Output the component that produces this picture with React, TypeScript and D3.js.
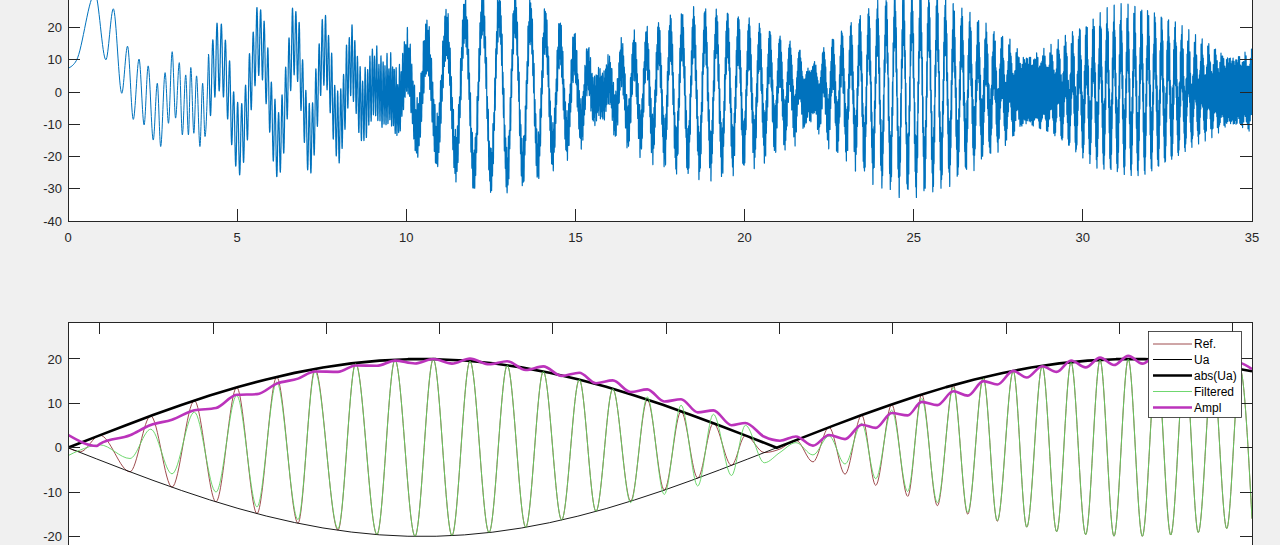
import React, { useMemo } from "react";
import * as d3 from "d3";

// ================= TOP SUBPLOT DATA =================
const TOP_X_TICKS = [0, 5, 10, 15, 20, 25, 30, 35];
const TOP_Y_TICKS = [-40, -30, -20, -10, 0, 10, 20, 30, 40];

// explicit extrema of the first, slow part of the signal (t, value)
const EARLY_T = [0, 0.25, 0.8, 1.12, 1.34, 1.59, 1.76, 1.93, 2.1, 2.25, 2.37, 2.52, 2.64, 2.74, 2.87, 2.97, 3.08, 3.18, 3.29, 3.38, 3.48, 3.56, 3.63, 3.72, 3.8, 3.9, 3.98, 4.05, 4.15];
const EARLY_V = [7.3, 9.8, 30.5, 10, 25.8, -0.4, 14.2, -8.5, 10.2, -10.2, 8.1, -14.9, 2.7, -16.9, 6, -9.7, 12.5, -8.1, 9.1, -13.3, 5.3, -13.3, 7.6, -12.8, 5, -16.9, 2.7, -13.8, 10.9];

// slow (visible strokes) component: signed envelope
const SLOW_T = [4.15, 5.05, 5.7, 6.25, 6.75, 7.18, 7.6, 8.03, 8.43, 8.75, 9.45, 10.1, 10.4, 10.7, 11.0, 11.5, 12.0, 12.6, 13.0, 13.5, 14.0, 14.45, 14.9, 15.3, 15.7, 16.3, 16.7, 17.1, 17.5, 17.9, 18.3, 18.8, 19.3, 19.7, 20.1, 20.5, 20.9, 21.3, 21.6, 21.9, 22.5, 22.9, 23.3, 23.7, 24.1, 24.5, 25.0, 25.5, 25.9, 26.3, 26.7, 27.1, 27.5, 27.9, 28.3, 29.0, 29.6, 30.0, 30.4, 30.8, 31.2, 31.5, 31.9, 32.25, 32.65, 33.0, 33.4, 33.9, 34.4, 35];
const SLOW_AMP = [9, 15, 16, 16, 16, 15, 13, 11, 9, 5, 0, -10, -12.5, -14.5, -16.5, -20.7, -24.5, -25, -25, -23, -20.5, -16.5, -12.5, -9, 0, 9, 11.4, 13.4, 15.4, 17.9, 18.9, 19.6, 18.8, 17.8, 16.3, 14.3, 11.8, 9.3, 7.2, 0, -9.4, -12.3, -15.7, -19.1, -21.5, -23.3, -23.9, -23.1, -21, -18.4, -15.3, -12.1, -9, -5.8, 0, 3.5, 8.6, 11.7, 14.5, 16, 17, 17.4, 16.8, 15, 12.7, 9.9, 6.8, 3.9, 0, -3];
const SLOW_PERIOD_T = [4.15, 5.5, 6.2, 7.0, 7.8, 8.6, 9.5, 10.5, 11.5, 12.5, 13.5, 14.5, 16, 17.5, 19, 20.5, 23, 25, 27, 30, 32, 35];
const SLOW_PERIOD = [1.22, 1.2, 1.05, 0.88, 0.84, 0.7, 0.62, 0.59, 0.55, 0.49, 0.45, 0.43, 0.39, 0.35, 0.335, 0.305, 0.266, 0.25, 0.238, 0.205, 0.2, 0.195];
const SLOW_FIRST_PEAK = 4.45;

// fast (dense band) components
const FAST_T = [4.15, 8.5, 9.6, 10.5, 12, 15.7, 22, 28.3, 35];
const FAST_AMP1 = [10.5, 10.5, 9.5, 7.5, 6, 6, 6.5, 8.5, 8.5];
const FAST_AMP2 = [0.5, 1, 1.8, 1.5, 1.5, 1.5, 1.5, 1.5, 1.5];
const FAST_AMP3 = [0.3, 0.5, 1.2, 1, 1, 1, 1, 1, 1];
const FAST_PERIOD_T = [4.15, 5.7, 7.5, 8.5, 9.5, 10.5, 12, 15, 20, 28, 35];
const FAST_PERIOD = [0.13, 0.108, 0.095, 0.08, 0.055, 0.035, 0.028, 0.024, 0.02, 0.018, 0.016];

// ================= BOTTOM SUBPLOT DATA =================
const BOT_X_TICKS = [0.28, 1.28, 2.28, 3.28, 4.28, 5.28, 6.28, 7.28, 8.28, 9.28, 10.28];
const BOT_Y_TICKS = [-20, -10, 0, 10, 20];

const UA_U = [0, 0.25, 0.5, 0.75, 1, 1.25, 1.5, 1.75, 2, 2.25, 2.5, 2.75, 3, 3.25, 3.5, 3.75, 4, 4.25, 4.5, 4.75, 5, 5.25, 5.5, 5.75, 6, 6.255, 6.5, 6.75, 7, 7.25, 7.5, 7.75, 8, 8.25, 8.5, 8.75, 9, 9.25, 9.5, 9.75, 10, 10.25, 10.45];
const UA_V = [0, -2.5, -4.97, -7.36, -9.63, -11.75, -13.68, -15.4, -16.87, -18.09, -19.01, -19.64, -19.96, -19.96, -19.65, -19.03, -18.11, -16.9, -15.43, -13.72, -11.78, -9.67, -7.39, -5.01, -2.55, 0, 2.45, 4.93, 7.31, 9.59, 11.72, 13.66, 15.38, 16.86, 18.08, 19.02, 19.64, 19.96, 19.97, 19.66, 19.04, 18.13, 17.23];

// positions of the extrema of the reference signal
const REF_EXT_U = [0.282, 0.547, 0.73, 0.918, 1.115, 1.306, 1.489, 1.668, 1.842, 2.03, 2.18, 2.383, 2.539, 2.727, 2.886, 3.063, 3.224, 3.389, 3.548, 3.716, 3.877, 4.04, 4.195, 4.357, 4.513, 4.66, 4.808, 4.966, 5.113, 5.263, 5.411, 5.558, 5.696, 5.856, 5.979, 6.146, 6.284, 6.425, 6.575, 6.717, 6.858, 7.005, 7.129, 7.27, 7.411, 7.535, 7.673, 7.814, 7.941, 8.079, 8.202, 8.343, 8.462, 8.599, 8.726, 8.853, 8.982, 9.109, 9.232, 9.358, 9.482, 9.609, 9.733, 9.859, 9.976, 10.103, 10.227, 10.344];
const REF_START_U = [0, 0.11];
const REF_START_V = [0, -0.9];
const REF_END_U = [10.45];
const REF_END_V = [-16];

// filtered: amplitude offset relative to Ref
const FILT_D_U = [0, 0.55, 0.92, 1.3, 1.67, 2.03, 2.4, 2.8, 4.8, 5.2, 5.56, 5.86, 6.15, 6.26, 6.43, 6.58, 6.86, 7.13, 7.41, 7.67, 8.0, 8.4, 10.45];
const FILT_D = [-1.3, -3, -3, -2.2, -1.5, -0.8, -0.3, 0, 0, 0.8, 1.8, 2.3, 2.3, 1.0, -0.6, -1.6, -2.3, -1.5, -1.1, -0.7, -0.3, 0, 0];
const FILT_START_U = [0, 0.1];
const FILT_START_V = [-1.8, -0.6];

// amplitude estimate
const AMPL_U = [0, 0.253, 0.574, 0.724, 0.874, 1.015, 1.165, 1.315, 1.456, 1.606, 1.756, 1.898, 2.048, 2.198, 2.339, 2.489, 2.639, 2.78, 2.93, 3.08, 3.398, 3.698, 3.989, 4.281, 4.581, 4.872, 5.163, 5.463, 5.755, 6.046, 6.284, 6.461, 6.637, 6.876, 7.105, 7.405, 7.696, 7.988, 8.288, 8.579, 8.87, 9.17, 9.462, 10.0, 10.45];
const AMPL_V = [2.9, 0.4, 3.3, 4.8, 6.3, 7.2, 8.6, 9.3, 11.5, 12, 13, 14.8, 16.1, 16.9, 17.3, 18, 18.4, 19.2, 19.2, 19.5, 19.5, 19.5, 18.4, 17.3, 15.8, 14, 12, 9.7, 7, 4, 2.5, 1.4, 1.4, 3.0, 5.2, 8.2, 10.8, 13.1, 16.1, 17.3, 18.8, 19.5, 19.9, 19.5, 17.7];
const AMPL_RIPPLE_U = [0, 3, 4, 6, 8, 10.45];
const AMPL_RIPPLE = [0.2, 0.45, 0.7, 0.9, 1.0, 0.9];

const LEGEND_LABELS = ["Ref.", "Ua", "abs(Ua)", "Filtered", "Ampl"];

// ================= STYLE =================
const FIG_BG = "#f0f0f0";
const AX_COL = "#262626";
const BLUE = "#0072BD";
const REF_COL = "#93383a";
const FILT_COL = "#5fd35f";
const AMPL_COL = "#bb33bb";
const FONT = "'Liberation Sans', Arial, Helvetica, sans-serif";

const L = 68, R = 1252;
const TOP_T = -37, TOP_B = 221;
const BOT_T = 322;
const TICK = 11.8;

type P = [number, number];

function buildTopModel(): P[] {
  const amp = d3.scaleLinear().domain(SLOW_T).range(SLOW_AMP).clamp(true);
  const per = d3.scaleLinear().domain(SLOW_PERIOD_T).range(SLOW_PERIOD).clamp(true);
  const fa1 = d3.scaleLinear().domain(FAST_T).range(FAST_AMP1).clamp(true);
  const fa2 = d3.scaleLinear().domain(FAST_T).range(FAST_AMP2).clamp(true);
  const fa3 = d3.scaleLinear().domain(FAST_T).range(FAST_AMP3).clamp(true);
  const fper = d3.scaleLinear().domain(FAST_PERIOD_T).range(FAST_PERIOD).clamp(true);
  const T0 = EARLY_T[EARLY_T.length - 1];
  const DT = 0.0012;
  let ps = Math.PI / 2 - (2 * Math.PI * (SLOW_FIRST_PEAK - T0)) / per(T0);
  let p1 = Math.PI / 2, p2 = Math.PI / 2, p3 = Math.PI / 2;
  const pts: P[] = [];
  for (let t = T0; t <= 35 + 1e-9; t += DT) {
    const v = amp(t) * Math.sin(ps) + fa1(t) * Math.sin(p1) + fa2(t) * Math.sin(p2) + fa3(t) * Math.sin(p3);
    pts.push([t, v]);
    const fp = fper(t);
    ps += (2 * Math.PI * DT) / per(t);
    p1 += (2 * Math.PI * DT) / fp;
    p2 += (2 * Math.PI * DT) / (fp * 1.7);
    p3 += (2 * Math.PI * DT) / (fp * 0.63);
  }
  return pts;
}

export default function App() {
  const xT = d3.scaleLinear().domain([0, 35]).range([L, R]);
  const yT = d3.scaleLinear().domain([-40, 40]).range([TOP_B, TOP_T]);
  const xB = d3.scaleLinear().domain([0, 10.45]).range([L, R]);
  const yB = d3.scaleLinear().domain([-30, 28.34]).range([580.8, BOT_T]);

  const paths = useMemo(() => {
    const fmt = (n: number) => Math.round(n * 10) / 10;
    const lineT = d3.line<P>().x((d) => fmt(xT(d[0]))).y((d) => fmt(yT(d[1])));
    const early: P[] = EARLY_T.map((t, i) => [t, EARLY_V[i]]);
    const earlyPath = d3.line<P>().x((d) => xT(d[0])).y((d) => yT(d[1])).curve(d3.curveMonotoneX)(early) || "";
    const modelPath = lineT(buildTopModel()) || "";

    const uaAt = d3.scaleLinear().domain(UA_U).range(UA_V);
    const lineB = d3.line<P>().x((d) => xB(d[0])).y((d) => yB(d[1]));
    const smoothB = d3.line<P>().x((d) => xB(d[0])).y((d) => yB(d[1])).curve(d3.curveMonotoneX);

    const ua: P[] = UA_U.map((u, i) => [u, UA_V[i]]);
    const absUa: P[] = UA_U.map((u, i) => [u, Math.abs(UA_V[i])]);

    const refExt: P[] = REF_EXT_U.map((u, i) => [u, (i % 2 === 0 ? -1 : 1) * uaAt(u)]);
    const ref: P[] = [
      ...REF_START_U.map((u, i) => [u, REF_START_V[i]] as P),
      ...refExt,
      ...REF_END_U.map((u, i) => [u, REF_END_V[i]] as P),
    ];
    const fd = d3.scaleLinear().domain(FILT_D_U).range(FILT_D).clamp(true);
    const filt: P[] = [
      ...FILT_START_U.map((u, i) => [u, FILT_START_V[i]] as P),
      ...refExt.map(([u, v]) => [u, v + Math.sign(v) * fd(u)] as P),
      ...REF_END_U.map((u, i) => [u, REF_END_V[i]] as P),
    ];
    const ab = d3.scaleLinear().domain(AMPL_U).range(AMPL_V).clamp(true);
    const rp = d3.scaleLinear().domain(AMPL_RIPPLE_U).range(AMPL_RIPPLE).clamp(true);
    const ampl: P[] = [
      [AMPL_U[0], AMPL_V[0]],
      [AMPL_U[1], AMPL_V[1]],
      ...refExt.map(([u, v]) => [u, ab(u) + (v > 0 ? 1 : -1) * rp(u)] as P),
      [AMPL_U[AMPL_U.length - 1], AMPL_V[AMPL_V.length - 1]],
    ];
    return {
      earlyPath,
      modelPath,
      ua: lineB(ua) || "",
      absUa: lineB(absUa) || "",
      ref: smoothB(ref) || "",
      filt: smoothB(filt) || "",
      ampl: smoothB(ampl) || "",
    };
  }, []);

  const legendY = [344, 359.5, 375.5, 391.5, 407.5];
  const legendStyles = [
    { stroke: REF_COL, w: 0.9 },
    { stroke: "#000", w: 1 },
    { stroke: "#000", w: 2.6 },
    { stroke: FILT_COL, w: 0.9 },
    { stroke: AMPL_COL, w: 2.6 },
  ];

  return (
    <svg
      width={1280}
      height={545}
      style={{ position: "absolute", left: 0, top: 0, display: "block" }}
      fontFamily={FONT}
    >
      <defs>
        <clipPath id="clipTop">
          <rect x={L} y={TOP_T} width={R - L} height={TOP_B - TOP_T} />
        </clipPath>
        <clipPath id="clipBot">
          <rect x={L} y={BOT_T} width={R - L} height={600 - BOT_T} />
        </clipPath>
      </defs>
      <rect x={0} y={0} width={1280} height={545} fill={FIG_BG} />

      {/* ---------- TOP AXES ---------- */}
      <rect x={L} y={TOP_T} width={R - L} height={TOP_B - TOP_T} fill="#fff" />
      <g clipPath="url(#clipTop)" fill="none" stroke={BLUE} strokeLinejoin="round">
        <path d={paths.earlyPath} strokeWidth={1} />
        <path d={paths.modelPath} strokeWidth={1.2} />
      </g>
      <g stroke={AX_COL} strokeWidth={1} shapeRendering="crispEdges">
        <rect x={L} y={TOP_T} width={R - L} height={TOP_B - TOP_T} fill="none" />
        {TOP_X_TICKS.map((t) => (
          <g key={"tx" + t}>
            <line x1={xT(t)} x2={xT(t)} y1={TOP_B} y2={TOP_B - TICK} />
            <line x1={xT(t)} x2={xT(t)} y1={TOP_T} y2={TOP_T + TICK} />
          </g>
        ))}
        {TOP_Y_TICKS.map((v) => (
          <g key={"ty" + v}>
            <line x1={L} x2={L + TICK} y1={yT(v)} y2={yT(v)} />
            <line x1={R} x2={R - TICK} y1={yT(v)} y2={yT(v)} />
          </g>
        ))}
      </g>
      <g fill={AX_COL} fontSize={13}>
        {TOP_X_TICKS.map((t) => (
          <text key={"txl" + t} x={xT(t)} y={242} textAnchor="middle">
            {t}
          </text>
        ))}
        {TOP_Y_TICKS.map((v) => (
          <text key={"tyl" + v} x={62} y={yT(v)} dy="0.36em" textAnchor="end">
            {v}
          </text>
        ))}
      </g>

      {/* ---------- BOTTOM AXES ---------- */}
      <rect x={L} y={BOT_T} width={R - L} height={600 - BOT_T} fill="#fff" />
      <g clipPath="url(#clipBot)" fill="none" strokeLinejoin="round">
        <path d={paths.ref} stroke={REF_COL} strokeWidth={0.9} />
        <path d={paths.ua} stroke="#000" strokeWidth={0.9} />
        <path d={paths.absUa} stroke="#000" strokeWidth={2.6} />
        <path d={paths.filt} stroke={FILT_COL} strokeWidth={0.9} />
        <path d={paths.ampl} stroke={AMPL_COL} strokeWidth={2.6} />
      </g>
      <g stroke={AX_COL} strokeWidth={1} shapeRendering="crispEdges">
        <rect x={L} y={BOT_T} width={R - L} height={600 - BOT_T} fill="none" />
        {BOT_X_TICKS.map((t) => (
          <line key={"bx" + t} x1={xB(t)} x2={xB(t)} y1={BOT_T} y2={BOT_T + TICK} />
        ))}
        {BOT_Y_TICKS.map((v) => (
          <g key={"by" + v}>
            <line x1={L} x2={L + TICK} y1={yB(v)} y2={yB(v)} />
            <line x1={R} x2={R - TICK} y1={yB(v)} y2={yB(v)} />
          </g>
        ))}
      </g>
      <g fill={AX_COL} fontSize={13}>
        {BOT_Y_TICKS.map((v) => (
          <text key={"byl" + v} x={62} y={yB(v)} dy="0.36em" textAnchor="end">
            {v}
          </text>
        ))}
      </g>

      {/* ---------- LEGEND ---------- */}
      <rect x={1148.5} y={331.5} width={93} height={86} fill="#fff" stroke={AX_COL} strokeWidth={0.8} />
      {LEGEND_LABELS.map((lab, i) => (
        <g key={lab}>
          <line
            x1={1153}
            x2={1192}
            y1={legendY[i]}
            y2={legendY[i]}
            stroke={legendStyles[i].stroke}
            strokeWidth={legendStyles[i].w}
          />
          <text x={1194} y={legendY[i]} dy="0.36em" fontSize={12} fill="#000">
            {lab}
          </text>
        </g>
      ))}
    </svg>
  );
}
